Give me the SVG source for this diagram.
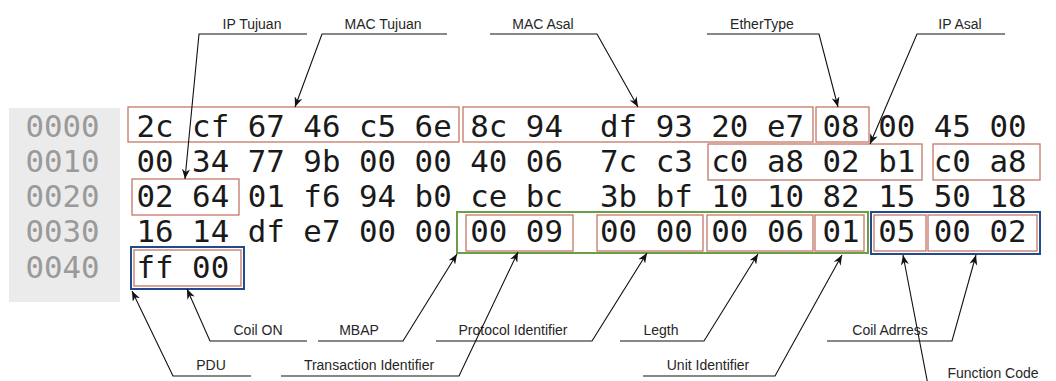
<svg xmlns="http://www.w3.org/2000/svg" width="1056" height="381" viewBox="0 0 1056 381">
  <style>
    .off { font-family: "DejaVu Sans Mono", monospace; font-size: 30.8px; fill: #9a9a9a; }
    .hex { font-family: "DejaVu Sans Mono", monospace; font-size: 30.8px; fill: #1a1a1a; white-space: pre; }
    .lbl { font-family: "Liberation Sans", Arial, sans-serif; font-size: 14px; fill: #262626; text-anchor: middle; }
    .fld { fill: none; stroke: #c47766; stroke-width: 1.3; }
    .mbap { fill: none; stroke: #6a9e47; stroke-width: 2; }
    .pdu { fill: none; stroke: #244a8e; stroke-width: 2; }
    .con { fill: none; stroke: #111; stroke-width: 1.1; }
  </style>
  <defs>
    <marker id="arrow" viewBox="0 0 10 8" refX="10" refY="4" markerWidth="10" markerHeight="8" markerUnits="userSpaceOnUse" orient="auto">
      <path d="M0,0 L10,4 L0,8 L3,4 z" fill="#111"/>
    </marker>
  </defs>

  <rect width="1056" height="381" fill="#ffffff"/>

  <!-- offset column -->
  <g id="offsets">
    <rect x="9" y="108" width="111" height="194" fill="#ebebeb"/>
    <text class="off" x="25.5" y="136.5">0000</text>
    <text class="off" x="25.5" y="171.8">0010</text>
    <text class="off" x="25.5" y="207">0020</text>
    <text class="off" x="25.5" y="242.3">0030</text>
    <text class="off" x="25.5" y="277.5">0040</text>
  </g>

  <!-- hex bytes (extra space after the eighth byte) -->
  <g id="hexdump">
    <text class="hex" xml:space="preserve" x="136.5" y="136.5">2c cf 67 46 c5 6e 8c 94  df 93 20 e7 08 00 45 00</text>
    <text class="hex" xml:space="preserve" x="136.5" y="171.8">00 34 77 9b 00 00 40 06  7c c3 c0 a8 02 b1 c0 a8</text>
    <text class="hex" xml:space="preserve" x="136.5" y="207">02 64 01 f6 94 b0 ce bc  3b bf 10 10 82 15 50 18</text>
    <text class="hex" xml:space="preserve" x="136.5" y="242.3">16 14 df e7 00 00 00 09  00 00 00 06 01 05 00 02</text>
    <text class="hex" xml:space="preserve" x="136.5" y="277.5">ff 00</text>
  </g>

  <!-- field boxes -->
  <g id="field-mac-tujuan"><rect class="fld" x="128" y="107" width="331" height="35"/></g>
  <g id="field-mac-asal"><rect class="fld" x="463" y="107" width="350" height="35"/></g>
  <g id="field-ethertype"><rect class="fld" x="816" y="107" width="53" height="35"/></g>
  <g id="field-ip-asal"><rect class="fld" x="708" y="144" width="214" height="36"/></g>
  <g id="field-ip-tujuan-a"><rect class="fld" x="933" y="144" width="107" height="36"/></g>
  <g id="field-ip-tujuan-b"><rect class="fld" x="132" y="179" width="107" height="36"/></g>

  <g id="group-mbap"><rect class="mbap" x="457" y="212" width="411" height="41"/></g>
  <g id="field-transaction-id"><rect class="fld" x="466" y="215" width="107" height="36"/></g>
  <g id="field-protocol-id"><rect class="fld" x="597" y="215" width="106" height="36"/></g>
  <g id="field-length"><rect class="fld" x="707" y="215" width="106" height="36"/></g>
  <g id="field-unit-id"><rect class="fld" x="815" y="215" width="49" height="36"/></g>

  <g id="group-pdu-a"><rect class="pdu" x="871" y="212" width="169" height="42"/></g>
  <g id="field-function-code"><rect class="fld" x="874" y="215" width="52" height="36"/></g>
  <g id="field-coil-address"><rect class="fld" x="928" y="215" width="109" height="36"/></g>

  <g id="group-pdu-b"><rect class="pdu" x="131" y="247" width="113" height="42"/></g>
  <g id="field-coil-on"><rect class="fld" x="134" y="250" width="107" height="36"/></g>

  <!-- labels -->
  <g id="label-ip-tujuan"><text class="lbl" x="252" y="28.5">IP Tujuan</text></g>
  <g id="label-mac-tujuan"><text class="lbl" x="383" y="28.5">MAC Tujuan</text></g>
  <g id="label-mac-asal"><text class="lbl" x="543" y="28.5">MAC Asal</text></g>
  <g id="label-ethertype"><text class="lbl" x="762" y="28.5">EtherType</text></g>
  <g id="label-ip-asal"><text class="lbl" x="960" y="28.5">IP Asal</text></g>

  <g id="label-coil-on"><text class="lbl" x="258" y="335">Coil ON</text></g>
  <g id="label-mbap"><text class="lbl" x="359" y="335">MBAP</text></g>
  <g id="label-protocol-id"><text class="lbl" x="513" y="335">Protocol Identifier</text></g>
  <g id="label-length"><text class="lbl" x="661" y="335">Legth</text></g>
  <g id="label-coil-address"><text class="lbl" x="890" y="335">Coil Adrress</text></g>
  <g id="label-pdu"><text class="lbl" x="211" y="370">PDU</text></g>
  <g id="label-transaction-id"><text class="lbl" x="369" y="370">Transaction Identifier</text></g>
  <g id="label-unit-id"><text class="lbl" x="708" y="370">Unit Identifier</text></g>
  <g id="label-function-code"><text class="lbl" x="993" y="378">Function Code</text></g>

  <!-- callout connectors -->
  <g id="connectors">
    <path class="con" d="M307,34 H199 L185,179" marker-end="url(#arrow)"/>
    <path class="con" d="M447,34 H322 L295,107" marker-end="url(#arrow)"/>
    <path class="con" d="M490,34 H597 L638,107" marker-end="url(#arrow)"/>
    <path class="con" d="M707,34 H819 L838,107" marker-end="url(#arrow)"/>
    <path class="con" d="M1005,34 H917 L870,144" marker-end="url(#arrow)"/>

    <path class="con" d="M307,341 H210 L187,289" marker-end="url(#arrow)"/>
    <path class="con" d="M318,341 H403 L457,254" marker-end="url(#arrow)"/>
    <path class="con" d="M436,341 H592 L647,253" marker-end="url(#arrow)"/>
    <path class="con" d="M620,341 H704 L758,254" marker-end="url(#arrow)"/>
    <path class="con" d="M827,341 H952 L976,255" marker-end="url(#arrow)"/>
    <path class="con" d="M251,376 H173 L132,291" marker-end="url(#arrow)"/>
    <path class="con" d="M281,376 H459 L518,252" marker-end="url(#arrow)"/>
    <path class="con" d="M643,376 H775 L842,255" marker-end="url(#arrow)"/>
    <path class="con" d="M1056,385 H928 L903,255" marker-end="url(#arrow)"/>
  </g>
</svg>
